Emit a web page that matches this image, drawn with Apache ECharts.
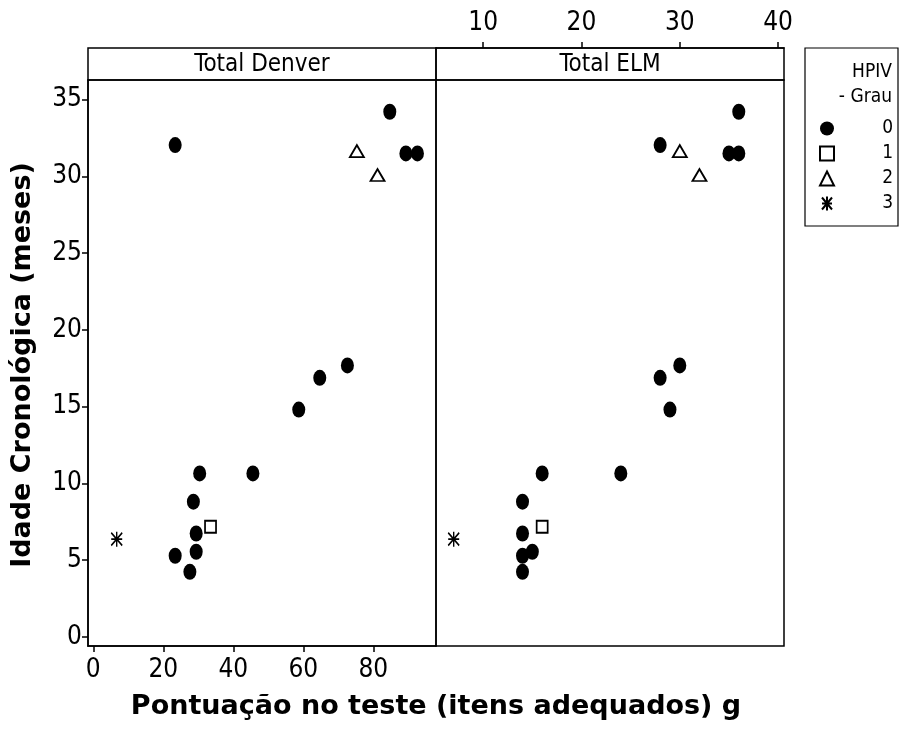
<!DOCTYPE html>
<html>
<head>
<meta charset="utf-8">
<script src="https://cdn.jsdelivr.net/npm/echarts@6/dist/echarts.min.js"></script>
<style>html,body{margin:0;padding:0;background:#fff;}#chart{width:900px;height:737px;}</style>
</head>
<body>
<div id="chart"></div>
<script>
// ---- data ----
const panelTitles = ['Total Denver', 'Total ELM'];
const legendNames = ['0', '1', '2', '3'];
const yTicks = [0, 5, 10, 15, 20, 25, 30, 35];
const denverTicks = [0, 20, 40, 60, 80];
const elmTicks = [10, 20, 30, 40];

const age0 = [4.23, 5.28, 5.54, 6.73, 8.8, 10.64, 10.64, 14.8, 16.87, 17.68, 32.03, 34.2, 31.49, 31.49];
const denver0 = [27.6, 23.4, 29.4, 29.4, 28.6, 30.4, 45.6, 58.7, 64.7, 72.6, 23.4, 84.7, 89.3, 92.6];
const elm0 = [14, 14, 15, 14, 14, 16, 24, 29, 28, 30, 28, 36, 35, 36];

const age1 = [7.17];
const denver1 = [33.5];
const elm1 = [16];

const age2 = [31.64, 30.08];
const denver2 = [75.3, 81.2];
const elm2 = [30, 32];

const age3 = [6.36];
const denver3 = [6.7];
const elm3 = [7];

// ---- styles ----
const tickFont = '"DejaVu Sans Condensed", "Liberation Sans", Arial, sans-serif';
const asteriskPath = 'path://M0,1L10,13M10,1L0,13M5,0L5,14M0,7L10,7';
const symbols = [
  { symbol: 'circle', size: [13, 16], style: { color: '#000', opacity: 1 } },
  { symbol: 'rect', size: [11, 12], style: { color: '#fff', borderColor: '#000', borderWidth: 1.8, opacity: 1 } },
  { symbol: 'triangle', size: [14, 12], style: { color: '#fff', borderColor: '#000', borderWidth: 1.8, opacity: 1 } },
  { symbol: asteriskPath, size: [11, 15], style: { color: '#000', borderColor: '#000', borderWidth: 1.6, opacity: 1 } }
];
const ages = [age0, age1, age2, age3];
const denverVals = [denver0, denver1, denver2, denver3];
const elmVals = [elm0, elm1, elm2, elm3];

function pairs(xs, ys) { return xs.map((x, i) => [x, ys[i]]); }

const series = [];
for (let g = 0; g < 4; g++) {
  [denverVals[g], elmVals[g]].forEach((xs, p) => {
    series.push({
      name: legendNames[g],
      type: 'scatter',
      xAxisIndex: p,
      yAxisIndex: p,
      symbol: symbols[g].symbol,
      symbolSize: symbols[g].size,
      itemStyle: symbols[g].style,
      data: pairs(xs, ages[g]),
      emphasis: { disabled: true },
      z: 3
    });
  });
}

const chart = echarts.init(document.getElementById('chart'), null, { renderer: 'canvas' });
const axisLine = { show: true, onZero: false, lineStyle: { color: '#000', width: 1.5 } };
chart.setOption({
  animation: false,
  backgroundColor: '#fff',
  grid: [
    { left: 88, top: 80, width: 348, height: 566, show: true, borderColor: '#000', borderWidth: 1.5, backgroundColor: 'transparent' },
    { left: 436, top: 80, width: 348, height: 566, show: true, borderColor: '#000', borderWidth: 1.5, backgroundColor: 'transparent' }
  ],
  xAxis: [
    {
      gridIndex: 0, type: 'value', min: -1.5, max: 97.9, position: 'bottom',
      axisLine: axisLine,
      axisTick: { show: true, inside: false, length: 6, customValues: denverTicks, lineStyle: { color: '#000', width: 1.5 } },
      axisLabel: { customValues: denverTicks, color: '#000', fontFamily: tickFont, fontSize: 26, margin: 11 },
      splitLine: { show: false }
    },
    {
      gridIndex: 1, type: 'value', min: 5.2, max: 40.6, position: 'top', offset: 32,
      axisLine: axisLine,
      axisTick: { show: true, inside: false, length: 6, customValues: elmTicks, lineStyle: { color: '#000', width: 1.5 } },
      axisLabel: { customValues: elmTicks, color: '#000', fontFamily: tickFont, fontSize: 26, margin: 12 },
      splitLine: { show: false }
    }
  ],
  yAxis: [
    {
      gridIndex: 0, type: 'value', min: -0.6, max: 36.27,
      axisLine: axisLine,
      axisTick: { show: true, inside: false, length: 6, customValues: yTicks, lineStyle: { color: '#000', width: 1.5 } },
      axisLabel: { customValues: yTicks, color: '#000', fontFamily: tickFont, fontSize: 26, margin: 6 },
      splitLine: { show: false }
    },
    {
      gridIndex: 1, type: 'value', min: -0.6, max: 36.27, show: false,
      splitLine: { show: false }
    }
  ],
  legend: {
    orient: 'vertical',
    left: 814, top: 114,
    itemWidth: 14, itemHeight: 14, itemGap: 6,
    selectedMode: false,
    data: [
      { name: '0', icon: 'circle' },
      { name: '1', icon: 'rect' },
      { name: '2', icon: 'triangle' },
      { name: '3', icon: asteriskPath }
    ],
    formatter: '{v|{name}}',
    textStyle: {
      color: '#000',
      rich: { v: { width: 54, align: 'right', fontFamily: tickFont, fontSize: 19, color: '#000' } }
    }
  },
  graphic: [
    { type: 'rect', shape: { x: 88, y: 48, width: 348, height: 32 }, style: { fill: 'none', stroke: '#000', lineWidth: 1.5 }, silent: true },
    { type: 'rect', shape: { x: 436, y: 48, width: 348, height: 32 }, style: { fill: 'none', stroke: '#000', lineWidth: 1.5 }, silent: true },
    { type: 'text', x: 262, y: 65, style: { text: panelTitles[0], fill: '#000', font: '24px "DejaVu Sans Condensed", "Liberation Sans", sans-serif', textAlign: 'center', textVerticalAlign: 'middle' } },
    { type: 'text', x: 610, y: 65, style: { text: panelTitles[1], fill: '#000', font: '24px "DejaVu Sans Condensed", "Liberation Sans", sans-serif', textAlign: 'center', textVerticalAlign: 'middle' } },
    { type: 'text', x: 23, y: 365, rotation: Math.PI / 2, style: { text: 'Idade Cronológica (meses)', fill: '#000', font: 'bold 27px "DejaVu Sans"', textAlign: 'center', textVerticalAlign: 'middle' } },
    { type: 'text', x: 436, y: 707, style: { text: 'Pontuação no teste (itens adequados) g', fill: '#000', font: 'bold 27px "DejaVu Sans"', textAlign: 'center', textVerticalAlign: 'middle' } },
    { type: 'rect', shape: { x: 805, y: 48, width: 93, height: 178 }, style: { fill: 'none', stroke: '#000', lineWidth: 1.2 }, silent: true },
    { type: 'text', x: 892, y: 72, style: { text: 'HPIV', fill: '#000', font: '19px "DejaVu Sans Condensed", "Liberation Sans", sans-serif', textAlign: 'right', textVerticalAlign: 'middle' } },
    { type: 'text', x: 892, y: 97, style: { text: '- Grau', fill: '#000', font: '19px "DejaVu Sans Condensed", "Liberation Sans", sans-serif', textAlign: 'right', textVerticalAlign: 'middle' } }
  ],
  series: series
});
</script>
</body>
</html>
